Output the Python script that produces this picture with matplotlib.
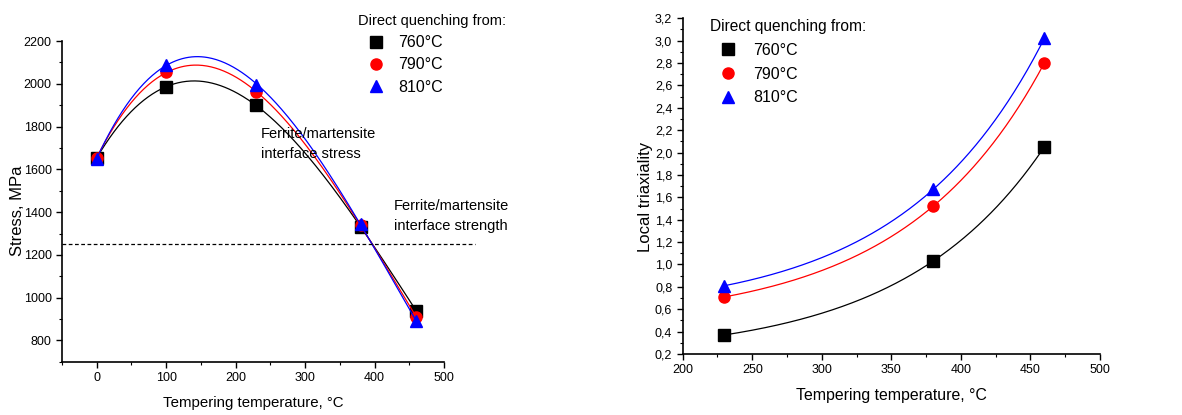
import numpy as np
import matplotlib
matplotlib.use("Agg")
import matplotlib.pyplot as plt
from matplotlib.ticker import MultipleLocator, FuncFormatter

plt.rcParams['font.family'] = ['Liberation Sans', 'DejaVu Sans']

# left panel: interface stress vs tempering temperature
temp_a = [0, 100, 230, 380, 460]
stress_760 = [1655, 1985, 1900, 1330, 940]
stress_790 = [1655, 2055, 1960, 1340, 910]
stress_810 = [1650, 2090, 1995, 1345, 890]
strength_level = 1250

# right panel: local triaxiality
temp_b = [230, 380, 460]
triax_760 = [0.37, 1.03, 2.05]
triax_790 = [0.71, 1.52, 2.80]
triax_810 = [0.81, 1.67, 3.02]

labels = ['760°C', '790°C', '810°C']
colors = ['black', 'red', 'blue']
markers = ['s', 'o', '^']


def exp_grow(x, y):
    # y = a + b*exp(c*x) through three points, c found by bisection
    x = np.asarray(x, float); y = np.asarray(y, float)
    r = (y[2] - y[1]) / (y[1] - y[0])
    def f(c):
        return (np.exp(c * x[2]) - np.exp(c * x[1])) / (np.exp(c * x[1]) - np.exp(c * x[0])) - r
    lo, hi = 1e-6, 0.1
    for _ in range(200):
        mid = 0.5 * (lo + hi)
        if f(lo) * f(mid) <= 0:
            hi = mid
        else:
            lo = mid
    c = 0.5 * (lo + hi)
    b = (y[1] - y[0]) / (np.exp(c * x[1]) - np.exp(c * x[0]))
    a = y[0] - b * np.exp(c * x[0])
    return lambda t: a + b * np.exp(c * t)


fig = plt.figure(figsize=(11.82, 4.15), dpi=100)
ax1 = fig.add_axes([0.0525, 0.128, 0.3231, 0.773])
ax2 = fig.add_axes([0.5776, 0.147, 0.353, 0.809])

xs = np.linspace(0, 460, 300)
for ys, col, mk, lab in zip([stress_760, stress_790, stress_810], colors, markers, labels):
    p = np.polyfit(temp_a, ys, 3)
    ax1.plot(xs, np.polyval(p, xs), color=col, lw=0.9)
    ax1.plot(temp_a, ys, ls='none', marker=mk, color=col, ms=8, label=lab, clip_on=False)

ax1.plot([-50, 545], [strength_level, strength_level], ls='--', color='black', lw=0.9,
         clip_on=False, dashes=(3, 2))
ax1.text(236, 1800, 'Ferrite/martensite\ninterface stress', fontsize=10.5, va='top',
         linespacing=1.55)
ax1.text(428, 1462, 'Ferrite/martensite\ninterface strength', fontsize=10.5, va='top',
         linespacing=1.55, clip_on=False)

ax1.set_xlim(-50, 500)
ax1.set_ylim(700, 2200)
ax1.xaxis.set_major_locator(MultipleLocator(100))
ax1.xaxis.set_minor_locator(MultipleLocator(50))
ax1.yaxis.set_minor_locator(MultipleLocator(100))
ax1.set_yticks(np.arange(800, 2201, 200))
ax1.set_xlabel('Tempering temperature, °C', fontsize=10.8)
ax1.set_ylabel('Stress, MPa', fontsize=12)
ax1.xaxis.set_label_coords(0.5, -0.106)
ax1.yaxis.set_label_coords(-0.097, 0.47)
ax1.legend(title='Direct quenching from:', loc='upper left', frameon=False,
           bbox_to_anchor=(358 / 1182, 1 - 14 / 415), bbox_transform=fig.transFigure,
           fontsize=11.5, title_fontsize=10.5, handlelength=2.2, handletextpad=0.3,
           labelspacing=0.45, borderpad=0, borderaxespad=0, alignment='left')

xs2 = np.linspace(230, 460, 300)
for ys, col, mk, lab in zip([triax_760, triax_790, triax_810], colors, markers, labels):
    fn = exp_grow(temp_b, ys)
    ax2.plot(xs2, fn(xs2), color=col, lw=0.9)
    ax2.plot(temp_b, ys, ls='none', marker=mk, color=col, ms=8, label=lab, clip_on=False)

ax2.set_xlim(200, 500)
ax2.set_ylim(0.2, 3.2)
ax2.xaxis.set_major_locator(MultipleLocator(50))
ax2.xaxis.set_minor_locator(MultipleLocator(25))
ax2.yaxis.set_major_locator(MultipleLocator(0.2))
ax2.yaxis.set_minor_locator(MultipleLocator(0.1))
ax2.yaxis.set_major_formatter(FuncFormatter(lambda v, pos: f'{v:.1f}'.replace('.', ',')))
ax2.set_xlabel('Tempering temperature, °C', fontsize=11.4)
ax2.set_ylabel('Local triaxiality', fontsize=12)
ax2.xaxis.set_label_coords(0.5, -0.101)
ax2.yaxis.set_label_coords(-0.071, 0.467)
ax2.legend(title='Direct quenching from:', loc='upper left', frameon=False,
           bbox_to_anchor=(710 / 1182, 1 - 19 / 415), bbox_transform=fig.transFigure,
           fontsize=11.5, title_fontsize=11.2, handlelength=2.3, handletextpad=0.4,
           labelspacing=0.55, borderpad=0, borderaxespad=0, alignment='left')

for ax in (ax1, ax2):
    for s in ('top', 'right'):
        ax.spines[s].set_visible(False)
    ax.spines['left'].set_linewidth(1.2)
    ax.spines['bottom'].set_linewidth(1.2)
    ax.tick_params(which='major', direction='out', length=4, width=1, labelsize=9)
    ax.tick_params(which='minor', direction='out', length=2.5, width=0.8)

fig.savefig('out.png', dpi=100)
